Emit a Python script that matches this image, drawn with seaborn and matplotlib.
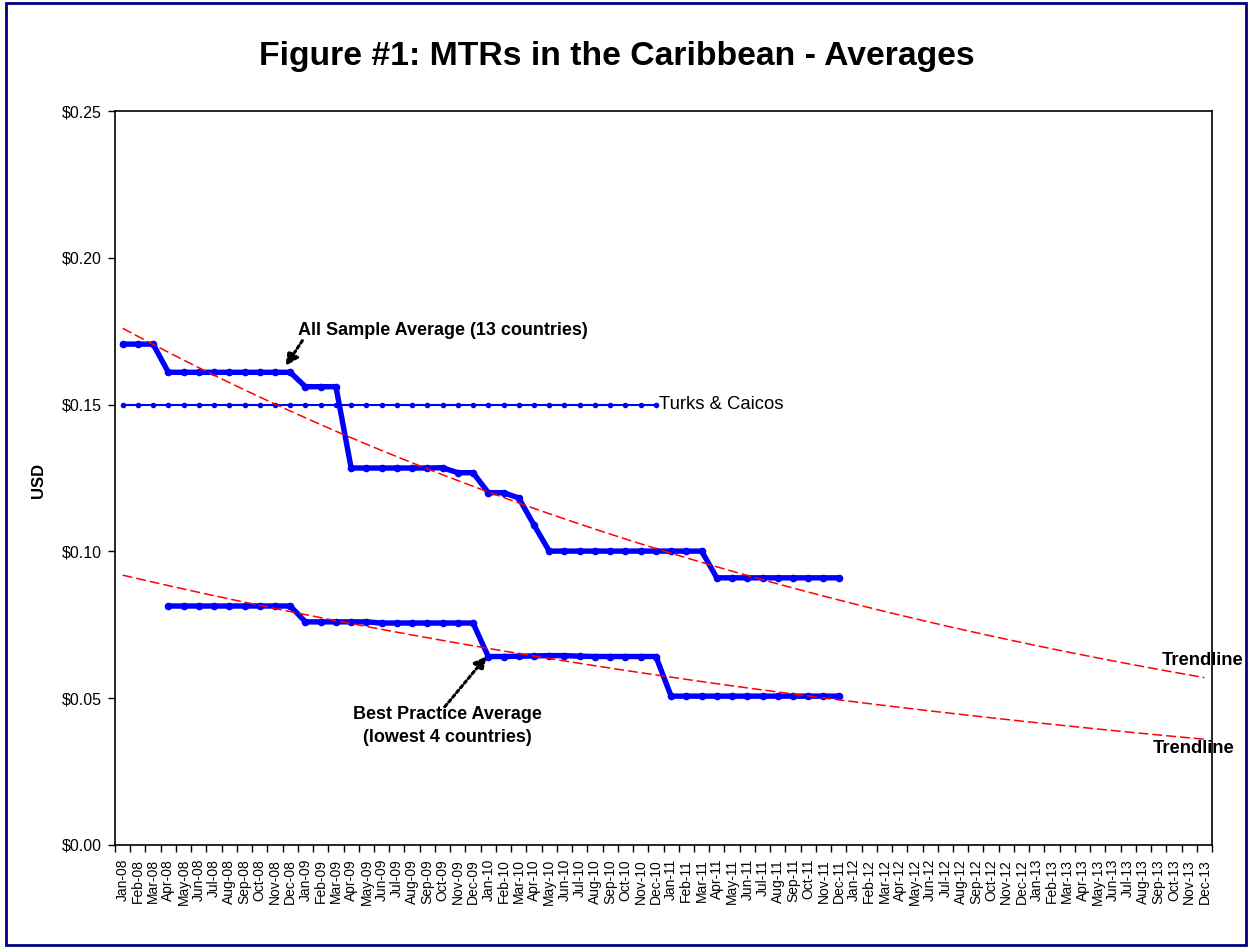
import numpy as np
import pandas as pd
import matplotlib
matplotlib.use("Agg")
import matplotlib.pyplot as plt
import seaborn as sns
from matplotlib.patches import Rectangle

# Monthly category axis, Jan-08 .. Dec-13
months = pd.date_range("2008-01-01", "2013-12-01", freq="MS").strftime("%b-%y").tolist()

# All sample average (13 countries), Jan-08 .. Dec-11
all_sample = [
    0.1706, 0.1706, 0.1706, 0.1610, 0.1610, 0.1610, 0.1610, 0.1610, 0.1610, 0.1610, 0.1610, 0.1610,
    0.1561, 0.1561, 0.1561, 0.1284, 0.1284, 0.1284, 0.1284, 0.1284, 0.1284, 0.1285, 0.1268, 0.1268,
    0.1200, 0.1200, 0.1182, 0.1090, 0.1001, 0.1001, 0.1001, 0.1001, 0.1001, 0.1001, 0.1001, 0.1001,
    0.1001, 0.1001, 0.1001, 0.0910, 0.0910, 0.0910, 0.0910, 0.0910, 0.0910, 0.0910, 0.0910, 0.0910,
]

# Best practice average (lowest 4 countries), Jan-08 .. Dec-11 (no data for Q1 2008)
best_practice = [
    np.nan, np.nan, np.nan, 0.0814, 0.0814, 0.0814, 0.0814, 0.0814, 0.0814, 0.0814, 0.0814, 0.0814,
    0.0760, 0.0760, 0.0760, 0.0760, 0.0760, 0.0756, 0.0756, 0.0756, 0.0756, 0.0756, 0.0756, 0.0756,
    0.0642, 0.0642, 0.0643, 0.0644, 0.0645, 0.0645, 0.0643, 0.0642, 0.0642, 0.0642, 0.0642, 0.0642,
    0.0507, 0.0507, 0.0507, 0.0507, 0.0507, 0.0507, 0.0507, 0.0507, 0.0507, 0.0507, 0.0507, 0.0507,
]

# Turks & Caicos, Jan-08 .. Dec-10
turks_caicos = [0.15] * 36

y_ticks = [0.0, 0.05, 0.10, 0.15, 0.20, 0.25]

sns.set_style("white")
plt.rcParams["font.family"] = ["Liberation Sans", "DejaVu Sans"]
plt.rcParams.update({"text.color": "black", "axes.labelcolor": "black",
                     "xtick.color": "black", "ytick.color": "black"})

fig = plt.figure(figsize=(12.52, 9.48), dpi=100)
ax = fig.add_axes([115 / 1252, 1 - 845 / 948, (1212 - 115) / 1252, (845 - 111) / 948])

pos = np.arange(len(months))


def series_frame(values):
    df = pd.DataFrame({"pos": pos[: len(values)], "value": values})
    return df.dropna()


def exp_trend(df):
    # exponential least-squares trendline, extended over the whole axis
    b, ln_a = np.polyfit(df["pos"], np.log(df["value"]), 1)
    return pd.DataFrame({"pos": pos, "value": np.exp(ln_a + b * pos)})


df_all = series_frame(all_sample)
df_best = series_frame(best_practice)
df_tc = series_frame(turks_caicos)

trend_style = dict(color="#FF0000", lw=1.1, linestyle=(0, (6.5, 2.6)), zorder=4)
sns.lineplot(data=exp_trend(df_all), x="pos", y="value", ax=ax, **trend_style)
sns.lineplot(data=exp_trend(df_best), x="pos", y="value", ax=ax, **trend_style)

thick = dict(color="#0000FF", lw=3.9, marker="o", markersize=5.5, markeredgewidth=0, zorder=3)
sns.lineplot(data=df_all, x="pos", y="value", ax=ax, **thick)
sns.lineplot(data=df_best, x="pos", y="value", ax=ax, **thick)
sns.lineplot(data=df_tc, x="pos", y="value", ax=ax, color="#0000FF", lw=1.5,
             marker="o", markersize=4, markeredgewidth=0, zorder=3)

ax.set_xlim(-0.5, len(months) - 0.5)
ax.set_ylim(0, 0.25)
ax.set_xlabel("")
ax.set_ylabel("")

# tick marks sit between categories, labels at category centres
ax.set_xticks(np.arange(-0.5, len(months), 1))
ax.set_xticklabels([])
ax.set_xticks(pos, minor=True)
ax.set_xticklabels(months, minor=True, rotation=90, fontsize=10)
ax.tick_params(axis="x", which="major", direction="out", length=5, width=1, color="black", bottom=True)
ax.tick_params(axis="x", which="minor", length=0, pad=10)

ax.set_yticks(y_ticks)
ax.set_yticklabels([f"${v:.2f}" for v in y_ticks], fontsize=11.5)
ax.tick_params(axis="y", direction="out", length=5, width=1, color="black", left=True, pad=4.5)

for sp in ax.spines.values():
    sp.set_visible(True)
    sp.set_color("black")
    sp.set_linewidth(1.2)

# annotations
arrow = dict(arrowstyle="-|>", color="black", lw=2.2, linestyle=(0, (1, 1)),
             mutation_scale=18, shrinkA=0, shrinkB=0)
ax.text(11.5, 0.1754, "All Sample Average (13 countries)", fontsize=13, fontweight="bold",
        ha="left", va="center")
ax.annotate("", xy=(10.7, 0.1632), xytext=(11.8, 0.1718), arrowprops=arrow)

ax.text(35.2, 0.1502, "Turks & Caicos", fontsize=13.3, ha="left", va="center")

ax.text(21.3, 0.0405, "Best Practice Average\n(lowest 4 countries)", fontsize=13,
        fontweight="bold", ha="center", va="center", multialignment="center", linespacing=1.45)
ax.annotate("", xy=(23.9, 0.0643), xytext=(21.15, 0.0471), arrowprops=arrow)

ax.text(68.2, 0.0630, "Trendline", fontsize=13.2, fontweight="bold", ha="left", va="center")
ax.text(67.6, 0.0327, "Trendline", fontsize=13.2, fontweight="bold", ha="left", va="center")

fig.text(617 / 1252, 1 - 56 / 948, "Figure #1: MTRs in the Caribbean - Averages",
         fontsize=24.3, fontweight="bold", ha="center", va="center")
fig.text(38 / 1252, 1 - 480 / 948, "USD", fontsize=12, fontweight="bold",
         rotation=90, ha="center", va="center")

fig.patches.append(Rectangle((6 / 1252, 1 - 945 / 948), 1240 / 1252, 942 / 948,
                             transform=fig.transFigure, fill=False,
                             edgecolor="#000080", lw=2))

fig.savefig("out.png", dpi=100, facecolor="white")
